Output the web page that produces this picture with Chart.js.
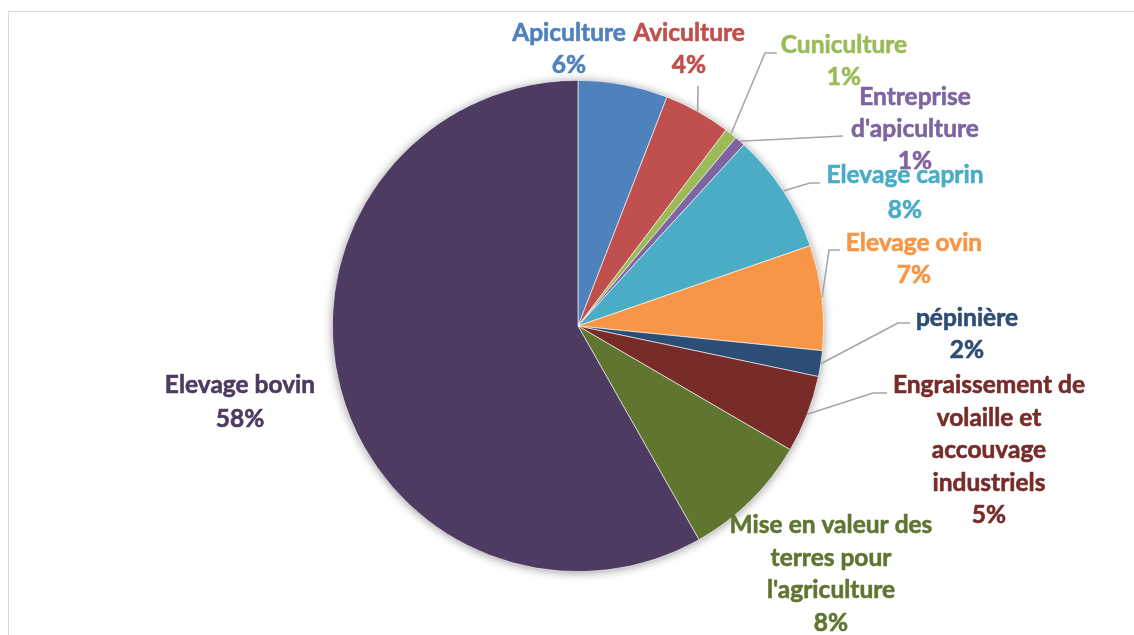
<!DOCTYPE html>
<html><head><meta charset="utf-8">
<script src="https://cdn.jsdelivr.net/npm/chart.js@4/dist/chart.umd.min.js"></script>
<style>
html,body{margin:0;padding:0;background:#fff;overflow:hidden}
#wrap{position:relative;width:1134px;height:635px}
#frame{position:absolute;left:8px;top:11px;width:1200px;height:700px;border-left:1.5px solid #d9d9d9;border-top:1.5px solid #d9d9d9;box-sizing:border-box}
canvas{position:absolute;left:0;top:0}
</style></head><body>
<div id="wrap"><div id="frame"></div><canvas id="c" width="1134" height="635"></canvas></div>
<script>
// ---- data ----
const categories = [
  "Apiculture",
  "Aviculture",
  "Cuniculture",
  "Entreprise\nd'apiculture",
  "Elevage caprin",
  "Elevage ovin",
  "pépinière",
  "Engraissement de\nvolaille et\naccouvage\nindustriels",
  "Mise en valeur des\nterres pour\nl'agriculture",
  "Elevage bovin"
];
const values = [5.9, 4.4, 0.8, 0.7, 7.9, 6.9, 1.7, 5.1, 8.4, 58.2];
const sliceColors = ["#4F81BD","#C0504D","#9BBB59","#8064A2","#4BACC6","#F79646","#2C4D75","#772C2A","#5F7530","#4D3B62"];

// ---- label layout (text anchor: centre x, first baseline y, line pitch; leader elbow points) ----
const labelLayout = [
  {x:569, y:41,  dy:32,   leader:null},
  {x:689, y:41,  dy:32,   leader:[[698,86]]},
  {x:844, y:53,  dy:32,   leader:[[765,53],[777,53]]},
  {x:915, y:105, dy:32,   leader:[[843,136]]},
  {x:905, y:183, dy:35,   leader:[[810,183],[820,183]]},
  {x:914, y:251, dy:32,   leader:[[829,250],[840,250]]},
  {x:967, y:326, dy:32,   leader:[[898,323],[910,323]]},
  {x:989, y:393, dy:32.5, leader:[[873,393],[887,393]]},
  {x:831, y:533, dy:32.5, leader:null},
  {x:240, y:393, dy:34,   leader:null}
];
const FONT = "bold 24.5px Lato, 'Open Sans', sans-serif";

const total = values.reduce((a,b)=>a+b,0);

const shadowPlugin = {
  id:'pieShadow',
  beforeDatasetsDraw(chart){
    const el = chart.getDatasetMeta(0).data[0];
    if(!el) return;
    const ctx = chart.ctx;
    ctx.save();
    ctx.shadowColor = 'rgba(0,0,0,0.4)';
    ctx.shadowBlur = 10;
    ctx.shadowOffsetX = 0;
    ctx.shadowOffsetY = 1;
    ctx.fillStyle = '#ffffff';
    ctx.beginPath();
    ctx.arc(el.x, el.y, el.outerRadius, 0, Math.PI*2);
    ctx.fill();
    ctx.restore();
  }
};

const labelPlugin = {
  id:'outLabels',
  afterDatasetsDraw(chart){
    const ctx = chart.ctx;
    const meta = chart.getDatasetMeta(0);
    ctx.save();
    meta.data.forEach((arc,i)=>{
      const lay = labelLayout[i];
      if(lay.leader){
        const mid = (arc.startAngle + arc.endAngle)/2;
        const sx = arc.x + Math.cos(mid)*arc.outerRadius;
        const sy = arc.y + Math.sin(mid)*arc.outerRadius;
        ctx.strokeStyle = '#A6A6A6';
        ctx.lineWidth = 1.6;
        ctx.beginPath();
        ctx.moveTo(sx,sy);
        lay.leader.forEach(p=>ctx.lineTo(p[0],p[1]));
        ctx.stroke();
      }
      const lines = categories[i].split('\n');
      lines.push(Math.round(values[i]/total*100)+'%');
      ctx.font = FONT;
      ctx.fillStyle = sliceColors[i];
      ctx.strokeStyle = sliceColors[i];
      ctx.lineWidth = 0.6;
      ctx.lineJoin = 'round';
      ctx.textAlign = 'center';
      ctx.textBaseline = 'alphabetic';
      lines.forEach((t,k)=>{
        ctx.fillText(t, lay.x, lay.y + k*lay.dy);
        ctx.strokeText(t, lay.x, lay.y + k*lay.dy);
      });
    });
    ctx.restore();
  }
};

new Chart(document.getElementById('c'), {
  type:'pie',
  data:{
    labels: categories.map(c=>c.replace(/\n/g,' ')),
    datasets:[{
      data: values,
      backgroundColor: sliceColors,
      borderColor:'#ffffff',
      borderWidth:0.6
    }]
  },
  options:{
    responsive:false,
    animation:false,
    layout:{padding:{left:332,right:310,top:80,bottom:63}},
    plugins:{legend:{display:false},tooltip:{enabled:false}}
  },
  plugins:[shadowPlugin,labelPlugin]
});
</script>
</body></html>
